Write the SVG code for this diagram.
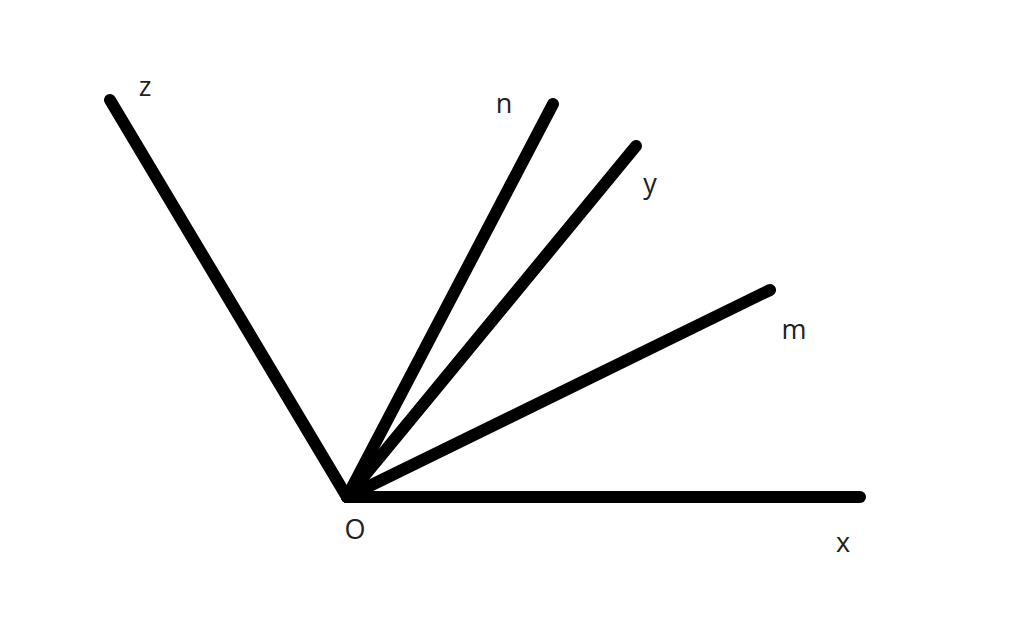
<svg xmlns="http://www.w3.org/2000/svg" width="1024" height="641" viewBox="0 0 1024 641">
<style>
.ray{stroke:#000;stroke-width:12;stroke-linecap:round;fill:none}
.lbl{font-family:"Open Sans","Liberation Sans",sans-serif;font-size:27px;fill:#222;text-anchor:middle}
</style>
<rect width="1024" height="641" fill="#fff"/>
<g id="connectors">
<line class="ray" x1="347" y1="497" x2="110" y2="100"/>
<line class="ray" x1="347" y1="497" x2="553" y2="104"/>
<line class="ray" x1="347" y1="497" x2="636" y2="146"/>
<line class="ray" x1="347" y1="497" x2="770" y2="290"/>
<line class="ray" x1="347" y1="497" x2="860" y2="497"/>
</g>
<g id="node-O"><text class="lbl" x="355" y="539">O</text></g>
<g id="node-z"><text class="lbl" x="145" y="96">z</text></g>
<g id="node-n"><text class="lbl" x="504" y="113">n</text></g>
<g id="node-y"><text class="lbl" x="650" y="193">y</text></g>
<g id="node-m"><text class="lbl" x="794" y="339">m</text></g>
<g id="node-x"><text class="lbl" x="843" y="552">x</text></g>
</svg>
